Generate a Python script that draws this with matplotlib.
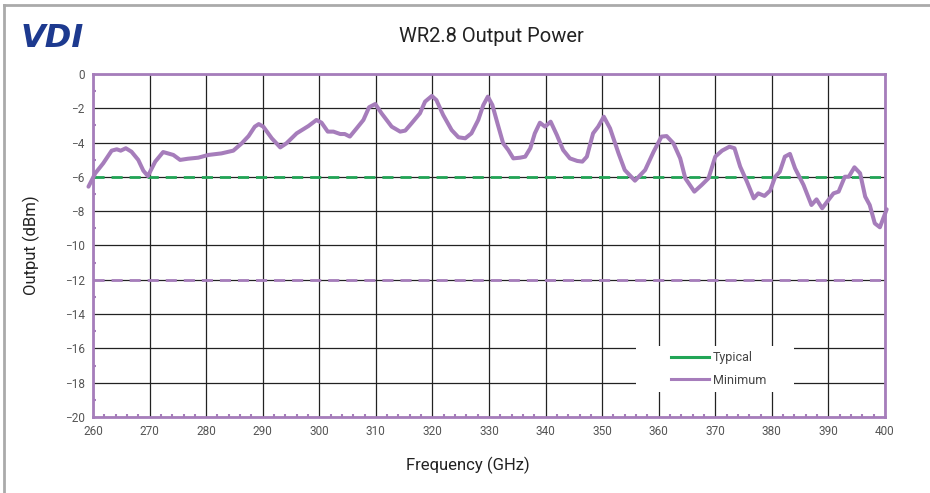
import matplotlib.pyplot as plt
from matplotlib.lines import Line2D
from matplotlib.patches import Rectangle
from matplotlib.ticker import MultipleLocator

plt.rcParams['font.family'] = ['Roboto', 'DejaVu Sans']

freq = [259.2, 260.4, 261.8, 263.3, 264.2, 264.9, 265.8, 266.8, 268.0, 268.9, 269.7,
        271.0, 272.4, 274.2, 275.4, 276.8, 278.6, 280.4, 282.7, 284.8, 286.3, 287.5,
        288.6, 289.3, 290.1, 291.6, 293.1, 294.2, 296.0, 298.1, 299.5, 300.4, 301.5,
        302.5, 303.7, 304.5, 305.4, 306.6, 307.8, 308.8, 309.9, 311.0, 312.8, 314.3,
        315.2, 316.3, 317.8, 318.7, 319.9, 320.7, 321.9, 323.4, 324.6, 325.8, 326.9,
        328.1, 329.0, 329.8, 330.6, 331.5, 332.5, 333.4, 334.3, 335.5, 336.4, 337.3,
        338.1, 339.0, 339.9, 340.9, 342.0, 343.1, 344.3, 345.6, 346.5, 347.3, 348.4,
        349.3, 350.3, 351.4, 352.9, 354.0, 355.8, 357.6, 359.1, 360.5, 361.4, 362.6,
        363.8, 364.7, 366.3, 367.6, 368.8, 370.0, 371.2, 372.5, 373.4, 374.4, 375.6,
        376.8, 377.6, 378.7, 379.7, 380.6, 381.4, 382.3, 383.2, 384.1, 385.6, 387.0,
        387.9, 388.9, 390.0, 390.9, 391.8, 392.9, 393.6, 394.6, 395.6, 396.5, 397.3,
        398.2, 399.1, 400.3]
minimum_out = [-6.57, -5.79, -5.21, -4.47, -4.39, -4.47, -4.33, -4.53, -5.01, -5.64, -5.95,
               -5.11, -4.55, -4.72, -5.01, -4.94, -4.88, -4.72, -4.63, -4.47, -4.04, -3.62,
               -3.07, -2.92, -3.07, -3.75, -4.28, -4.04, -3.46, -3.03, -2.68, -2.84, -3.36,
               -3.36, -3.50, -3.50, -3.65, -3.17, -2.68, -1.94, -1.75, -2.29, -3.07, -3.36,
               -3.30, -2.88, -2.29, -1.61, -1.28, -1.52, -2.39, -3.27, -3.69, -3.75, -3.46,
               -2.68, -1.81, -1.32, -1.81, -2.88, -4.04, -4.43, -4.92, -4.88, -4.82, -4.33,
               -3.46, -2.84, -3.07, -2.78, -3.56, -4.43, -4.92, -5.07, -5.11, -4.82, -3.46,
               -3.07, -2.49, -3.17, -4.63, -5.60, -6.22, -5.60, -4.53, -3.65, -3.62, -4.04,
               -4.92, -6.08, -6.86, -6.47, -6.08, -4.82, -4.47, -4.24, -4.33, -5.40, -6.28,
               -7.25, -6.96, -7.11, -6.80, -5.99, -5.70, -4.82, -4.66, -5.50, -6.47, -7.64,
               -7.31, -7.83, -7.35, -6.96, -6.86, -5.99, -5.99, -5.44, -5.79, -7.15, -7.64,
               -8.71, -8.94, -7.89]
spec_freq = [260, 400]
typical_spec = [-6, -6]
minimum_spec = [-12, -12]

purple = '#a67dbb'
green = '#22a556'

fig = plt.figure(figsize=(9.3, 4.93), dpi=100)
ax = fig.add_axes([0.1, 0.1542, 0.8516, 0.6957])

ax.plot(spec_freq, typical_spec, color=green, lw=2, ls=(0, (4, 2.5)), zorder=3)
ax.plot(spec_freq, minimum_spec, color=purple, lw=2, ls=(0, (4, 2.5)), zorder=3)
ax.plot(freq, minimum_out, color=purple, lw=2.9, zorder=4, clip_on=False,
        solid_joinstyle='round', solid_capstyle='round')

ax.set_xlim(260, 400)
ax.set_ylim(-20, 0)
ax.xaxis.set_major_locator(MultipleLocator(10))
ax.xaxis.set_minor_locator(MultipleLocator(2))
ax.yaxis.set_major_locator(MultipleLocator(2))
ax.yaxis.set_minor_locator(MultipleLocator(1))
ax.grid(True, which='major', color='#222222', lw=0.9)
ax.set_axisbelow(True)
ax.tick_params(which='major', length=0, labelsize=8.5, labelcolor='#555555', pad=6)
ax.tick_params(which='minor', direction='in', length=2.5, width=1.5, color=purple)
for s in ax.spines.values():
    s.set_color(purple)
    s.set_linewidth(2)

ax.set_xlabel('Frequency (GHz)', fontsize=12, color='#222222', labelpad=13)
ax.xaxis.set_label_coords(0.473, -0.115)
ax.set_ylabel('Output (dBm)', fontsize=12, color='#222222')
ax.yaxis.set_label_coords(-0.067, 0.5)

# white panel behind the legend, hides the grid there
ax.add_patch(Rectangle((0.6856, 0.073), 0.2, 0.134, transform=ax.transAxes,
                       facecolor='white', edgecolor='none', zorder=2))
handles = [Line2D([], [], color=green, lw=2.2), Line2D([], [], color=purple, lw=2.2)]
leg = ax.legend(handles, ['Typical', 'Minimum'], loc='center left',
                bbox_to_anchor=(0.73, 0.14), frameon=False, fontsize=9,
                handlelength=3.0, handletextpad=0.35, borderpad=0,
                labelspacing=0.75, borderaxespad=0)
leg.set_zorder(5)
for t in leg.get_texts():
    t.set_color('#444444')

fig.text(0.528, 0.925, 'WR2.8 Output Power', ha='center', va='center',
         fontsize=14.5, color='#222222')

# logo
fig.text(0.022, 0.922, 'VDI', ha='left', va='center', fontsize=23,
         fontweight='bold', style='italic', color='#1d3a8f', family='DejaVu Sans')

# page frame
fig.add_artist(Line2D([0.0045, 0.0045], [0, 0.99], color='#aaaaaa', lw=2,
                      transform=fig.transFigure))
fig.add_artist(Line2D([0.0045, 1], [0.99, 0.99], color='#aaaaaa', lw=2,
                      transform=fig.transFigure))

fig.savefig('out.png', dpi=100)
